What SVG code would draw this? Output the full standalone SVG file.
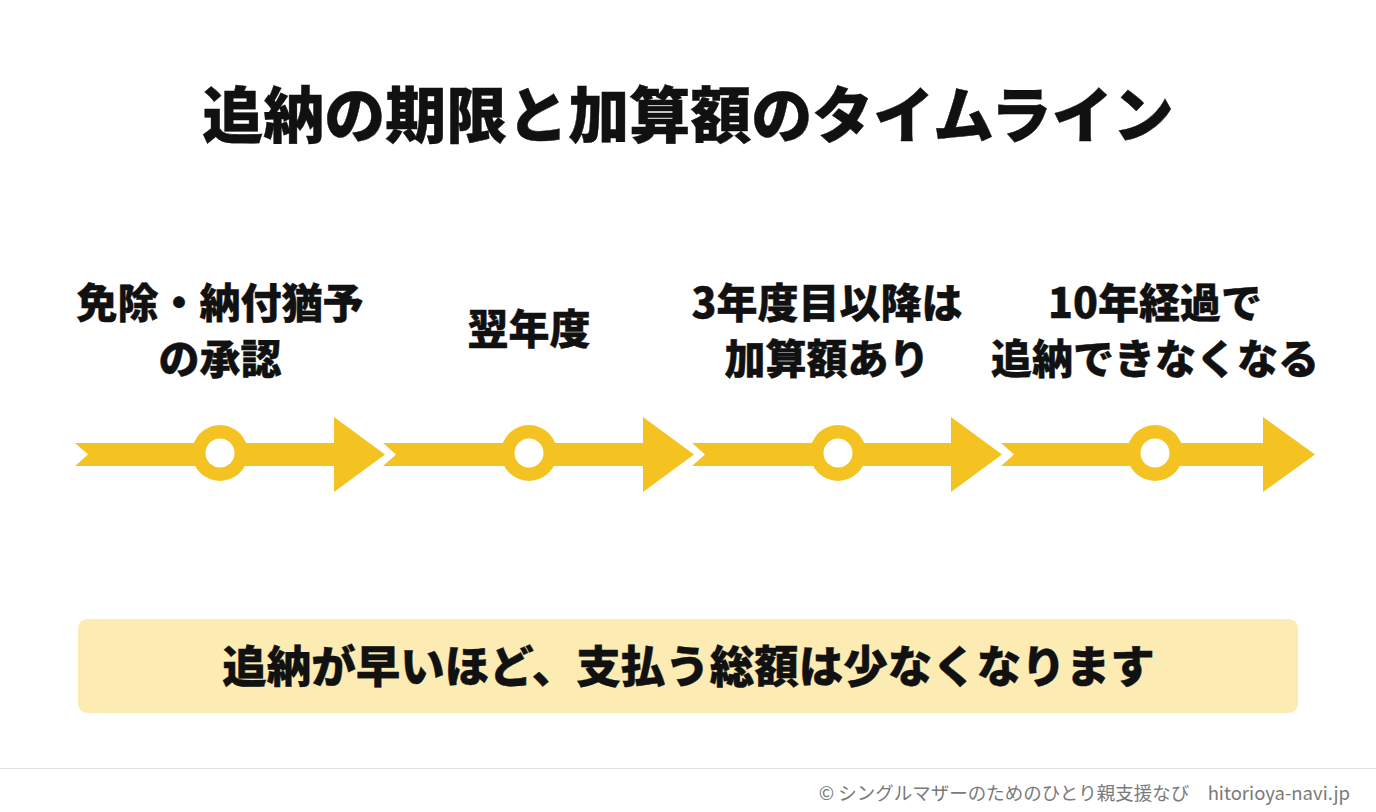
<svg xmlns="http://www.w3.org/2000/svg" width="1376" height="812" viewBox="0 0 1376 812">
<style>
.t{font-family:"Noto Sans CJK JP","Noto Sans CJK SC",sans-serif;font-weight:900;fill:#111;stroke:#111;stroke-width:0.4;text-anchor:middle}
.lbl{font-size:41px}
.seg{fill:#F4C322;stroke:#fff;stroke-width:6;stroke-linejoin:miter;paint-order:stroke}
.ring{fill:#F4C322}
.hole{fill:#fff}
.foot{font-family:"Noto Sans CJK JP","Noto Sans CJK SC",sans-serif;font-size:18.5px;font-weight:400;fill:#7a7a7a;text-anchor:end}
</style>
<rect width="1376" height="812" fill="#fff"/>
<g id="title"><text class="t" x="688" y="138" font-size="61">追納の期限と加算額のタイムライン</text></g>
<g id="connectors">
<path class="seg" d="M75,443 L334,443 L334,417 L385,454.5 L334,492 L334,466 L75,466 L88,454.5 Z"/>
<path class="seg" d="M383,443 L643,443 L643,417 L694,454.5 L643,492 L643,466 L383,466 L396,454.5 Z"/>
<path class="seg" d="M692,443 L951,443 L951,417 L1002,454.5 L951,492 L951,466 L692,466 L705,454.5 Z"/>
<path class="seg" d="M1001,443 L1263,443 L1263,417 L1315,454.5 L1263,492 L1263,466 L1001,466 L1014,454.5 Z"/>
</g>
<g id="node1">
<circle class="ring" cx="220" cy="453" r="28"/><circle class="hole" cx="220" cy="453" r="14.5"/>
<text class="t lbl" x="220" y="318">免除・納付猶予</text>
<text class="t lbl" x="220" y="374">の承認</text>
</g>
<g id="node2">
<circle class="ring" cx="529" cy="453" r="28"/><circle class="hole" cx="529" cy="453" r="14.5"/>
<text class="t lbl" x="529" y="344">翌年度</text>
</g>
<g id="node3">
<circle class="ring" cx="838" cy="453" r="28"/><circle class="hole" cx="838" cy="453" r="14.5"/>
<text class="t lbl" x="827" y="318">3年度目以降は</text>
<text class="t lbl" x="827" y="374">加算額あり</text>
</g>
<g id="node4">
<circle class="ring" cx="1155" cy="453" r="28"/><circle class="hole" cx="1155" cy="453" r="14.5"/>
<text class="t lbl" x="1155" y="318">10年経過で</text>
<text class="t lbl" x="1155" y="374">追納できなくなる</text>
</g>
<g id="summary">
<rect x="78" y="619" width="1220" height="94" rx="9" fill="#FCEBB3"/>
<text class="t" x="688.5" y="683" font-size="44.5">追納が早いほど、支払う総額は少なくなります</text>
</g>
<g id="footer">
<line x1="0" y1="768.5" x2="1376" y2="768.5" stroke="#e2e2dc" stroke-width="1"/>
<text class="foot" x="1350" y="800">© シングルマザーのためのひとり親支援なび　hitorioya-navi.jp</text>
</g>
</svg>
